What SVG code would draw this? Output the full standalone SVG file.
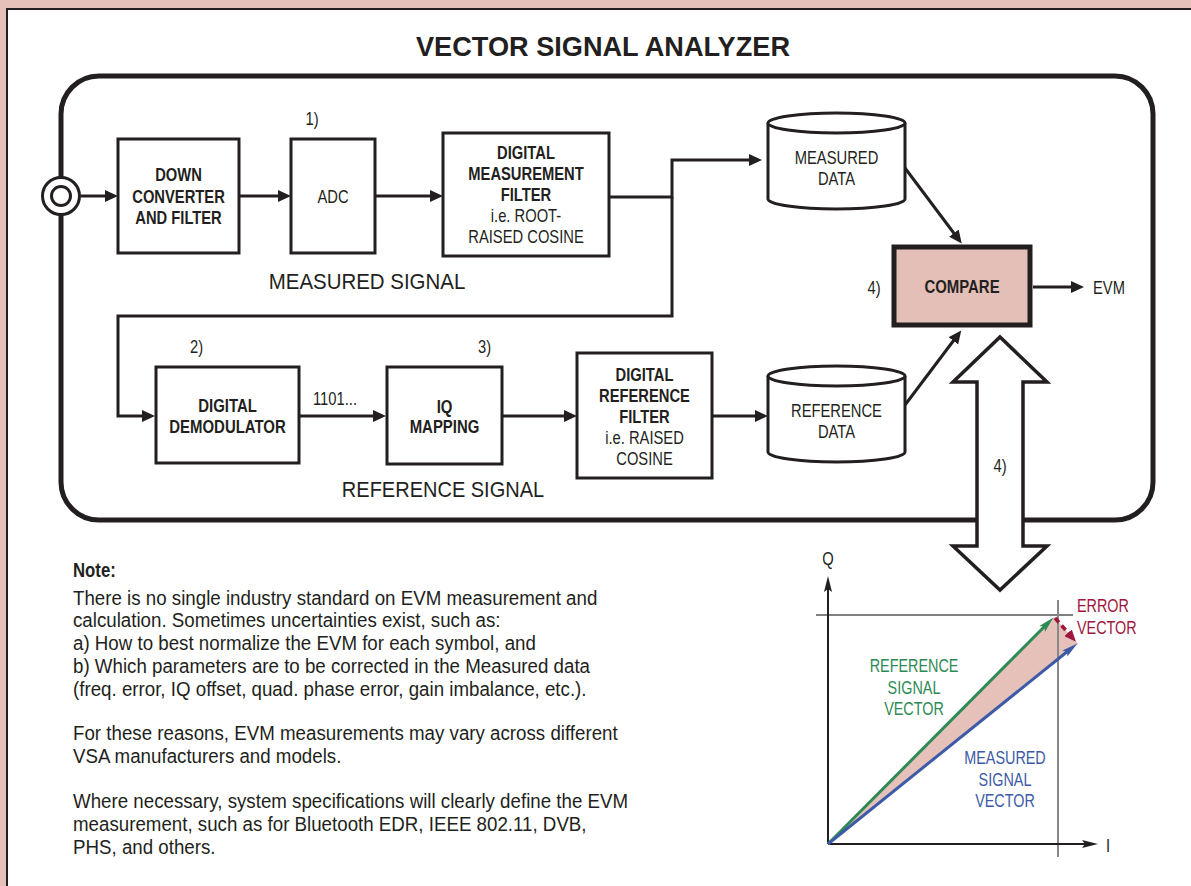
<svg xmlns="http://www.w3.org/2000/svg" width="1191" height="886" viewBox="0 0 1191 886">
<defs>
<style>
text{font-family:"Liberation Sans",Arial,sans-serif;fill:#231f20}
.b{font-weight:bold;font-size:18px;text-anchor:middle}
.r{font-size:18px;text-anchor:middle}
.big{font-size:22px;text-anchor:middle}
.note{font-size:19.5px}
.box{fill:#fff;stroke:#231f20;stroke-width:3}
.wire{fill:none;stroke:#231f20;stroke-width:3}
</style>
<marker id="ah" markerUnits="userSpaceOnUse" markerWidth="13" markerHeight="12" refX="6" refY="6" orient="auto"><path d="M0,0 L13,6 L0,12 z" fill="#231f20"/></marker>
<marker id="ax" markerUnits="userSpaceOnUse" markerWidth="16" markerHeight="10" refX="4" refY="5" orient="auto"><path d="M0,1 L16,5 L0,9 L3,5 z" fill="#231f20"/></marker>
<marker id="ag" markerUnits="userSpaceOnUse" markerWidth="16" markerHeight="10" refX="4" refY="5" orient="auto"><path d="M0,1 L16,5 L0,9 L3,5 z" fill="#2e8a55"/></marker>
<marker id="abl" markerUnits="userSpaceOnUse" markerWidth="16" markerHeight="10" refX="4" refY="5" orient="auto"><path d="M0,1 L16,5 L0,9 L3,5 z" fill="#3d5aa8"/></marker>
<marker id="ar" markerUnits="userSpaceOnUse" markerWidth="12" markerHeight="10" refX="3" refY="5" orient="auto"><path d="M0,0 L12,5 L0,10 z" fill="#a0173d"/></marker>
</defs>
<rect x="0" y="0" width="1191" height="886" fill="#e5c1b9"/>
<rect x="7" y="9" width="1200" height="900" fill="#fff" stroke="#231f20" stroke-width="2"/>
<text x="603" y="56" font-size="28" font-weight="bold" text-anchor="middle" textLength="374" lengthAdjust="spacingAndGlyphs">VECTOR SIGNAL ANALYZER</text>
<rect id="frame" x="61" y="76" width="1092" height="444" rx="38" ry="38" fill="none" stroke="#231f20" stroke-width="5"/>

<g id="connectors">
<line class="wire" x1="81" y1="196" x2="111" y2="196" marker-end="url(#ah)"/>
<line class="wire" x1="239" y1="196" x2="284" y2="196" marker-end="url(#ah)"/>
<line class="wire" x1="375" y1="196" x2="436" y2="196" marker-end="url(#ah)"/>
<polyline class="wire" points="609,197 672,197 672,160 755,160" marker-end="url(#ah)"/>
<polyline class="wire" points="672,197 672,316 118,316 118,416 148,416" marker-end="url(#ah)"/>
<line class="wire" x1="299" y1="416" x2="379" y2="416" marker-end="url(#ah)"/>
<line class="wire" x1="502" y1="416" x2="570" y2="416" marker-end="url(#ah)"/>
<line class="wire" x1="711" y1="416" x2="761" y2="416" marker-end="url(#ah)"/>
<line class="wire" x1="905" y1="168" x2="957.5" y2="238" marker-end="url(#ah)"/>
<line class="wire" x1="905" y1="405" x2="957" y2="336" marker-end="url(#ah)"/>
<line class="wire" x1="1033" y1="287" x2="1077" y2="287" marker-end="url(#ah)"/>
</g>

<g id="input">
<circle cx="61" cy="196" r="18.5" fill="#fff" stroke="#231f20" stroke-width="3"/>
<circle cx="61" cy="196" r="9.5" fill="#fff" stroke="#231f20" stroke-width="3"/>
</g>

<g id="downconverter">
<rect class="box" x="118" y="139" width="121" height="114"/>
<text class="b" transform="translate(178.5,0) scale(0.82,1)"><tspan x="0" y="181">DOWN</tspan><tspan x="0" y="203">CONVERTER</tspan><tspan x="0" y="224">AND FILTER</tspan></text>
</g>

<g id="adc">
<rect class="box" x="291" y="139" width="84" height="114"/>
<text class="r" transform="translate(333,0) scale(0.82,1)"><tspan x="0" y="203">ADC</tspan></text>
<text class="r" transform="translate(312,0) scale(0.82,1)"><tspan x="0" y="125">1)</tspan></text>
</g>

<g id="measfilter">
<rect class="box" x="443" y="133" width="166" height="123"/>
<text class="b" transform="translate(526,0) scale(0.82,1)"><tspan x="0" y="159">DIGITAL</tspan><tspan x="0" y="180">MEASUREMENT</tspan><tspan x="0" y="201">FILTER</tspan></text>
<text class="r" transform="translate(526,0) scale(0.82,1)"><tspan x="0" y="222">i.e. ROOT-</tspan><tspan x="0" y="243">RAISED COSINE</tspan></text>
</g>

<text class="big" transform="translate(367,0) scale(0.93,1)"><tspan x="0" y="289">MEASURED SIGNAL</tspan></text>

<g id="measdata">
<path d="M768,123 L768,199 A68.5,10 0 0 0 905,199 L905,123" fill="#fff" stroke="#231f20" stroke-width="3"/>
<ellipse cx="836.5" cy="123" rx="68.5" ry="10" fill="#fff" stroke="#231f20" stroke-width="3"/>
<text class="r" transform="translate(836.5,0) scale(0.82,1)"><tspan x="0" y="164">MEASURED</tspan><tspan x="0" y="185">DATA</tspan></text>
</g>

<g id="compare">
<rect x="894" y="247" width="136" height="78" fill="#e3bfb7" stroke="#231f20" stroke-width="5"/>
<text class="b" transform="translate(962,0) scale(0.83,1)"><tspan x="0" y="293">COMPARE</tspan></text>
<text class="r" transform="translate(874,0) scale(0.82,1)"><tspan x="0" y="294">4)</tspan></text>
</g>
<text class="r" transform="translate(1109,0) scale(0.82,1)"><tspan x="0" y="294">EVM</tspan></text>

<g id="demod">
<rect class="box" x="156" y="367" width="143" height="96"/>
<text class="b" transform="translate(227.5,0) scale(0.83,1)"><tspan x="0" y="412">DIGITAL</tspan><tspan x="0" y="433">DEMODULATOR</tspan></text>
<text class="r" transform="translate(196.5,0) scale(0.82,1)"><tspan x="0" y="353">2)</tspan></text>
</g>
<text class="r" transform="translate(335,0) scale(0.82,1)"><tspan x="0" y="405">1101...</tspan></text>

<g id="iqmap">
<rect class="box" x="387" y="367" width="115" height="97"/>
<text class="b" transform="translate(444.5,0) scale(0.83,1)"><tspan x="0" y="413">IQ</tspan><tspan x="0" y="433">MAPPING</tspan></text>
<text class="r" transform="translate(484.5,0) scale(0.82,1)"><tspan x="0" y="353">3)</tspan></text>
</g>

<g id="reffilter">
<rect class="box" x="577" y="353" width="135" height="125"/>
<text class="b" transform="translate(644.5,0) scale(0.82,1)"><tspan x="0" y="381">DIGITAL</tspan><tspan x="0" y="402">REFERENCE</tspan><tspan x="0" y="423">FILTER</tspan></text>
<text class="r" transform="translate(644.5,0) scale(0.82,1)"><tspan x="0" y="444">i.e. RAISED</tspan><tspan x="0" y="465">COSINE</tspan></text>
</g>

<text class="big" transform="translate(443,0) scale(0.91,1)"><tspan x="0" y="497">REFERENCE SIGNAL</tspan></text>

<g id="refdata">
<path d="M768,376 L768,452 A68.5,10 0 0 0 905,452 L905,376" fill="#fff" stroke="#231f20" stroke-width="3"/>
<ellipse cx="836.5" cy="376" rx="68.5" ry="10" fill="#fff" stroke="#231f20" stroke-width="3"/>
<text class="r" transform="translate(836.5,0) scale(0.82,1)"><tspan x="0" y="417">REFERENCE</tspan><tspan x="0" y="438">DATA</tspan></text>
</g>

<g id="doublearrow">
<polygon points="1000,337 1047,382 1023,382 1023,546 1047,546 1000,590 953,546 977,546 977,382 953,382" fill="#fff" stroke="#231f20" stroke-width="3.5" stroke-linejoin="miter"/>
<text class="r" transform="translate(1000,0) scale(0.82,1)"><tspan x="0" y="472">4)</tspan></text>
</g>

<g id="note">
<text class="note" font-weight="bold" transform="translate(73,0) scale(0.86,1)"><tspan x="0" y="577">Note:</tspan></text>
<text class="note" transform="translate(73,0) scale(0.96,1)">
<tspan x="0" y="605">There is no single industry standard on EVM measurement and</tspan>
<tspan x="0" y="627.5">calculation. Sometimes uncertainties exist, such as:</tspan>
<tspan x="0" y="650">a) How to best normalize the EVM for each symbol, and</tspan>
<tspan x="0" y="673">b) Which parameters are to be corrected in the Measured data</tspan>
<tspan x="0" y="696">(freq. error, IQ offset, quad. phase error, gain imbalance, etc.).</tspan>
<tspan x="0" y="740">For these reasons, EVM measurements may vary across different</tspan>
<tspan x="0" y="763">VSA manufacturers and models.</tspan>
<tspan x="0" y="808">Where necessary, system specifications will clearly define the EVM</tspan>
<tspan x="0" y="831">measurement, such as for Bluetooth EDR, IEEE 802.11, DVB,</tspan>
<tspan x="0" y="854">PHS, and others.</tspan>
</text>
</g>

<g id="iqplot">
<polygon points="828,844 1054,617 1078,644" fill="#e5c1b9"/>
<line x1="816" y1="615" x2="1073" y2="615" stroke="#555" stroke-width="1.5"/>
<line x1="1058" y1="600" x2="1058" y2="857" stroke="#888" stroke-width="2"/>
<line x1="828" y1="844" x2="828" y2="588" stroke="#231f20" stroke-width="2" marker-end="url(#ax)"/>
<line x1="828" y1="844" x2="1086" y2="844" stroke="#231f20" stroke-width="2" marker-end="url(#ax)"/>
<line x1="828" y1="844" x2="1045" y2="626" stroke="#2e8a55" stroke-width="3" marker-end="url(#ag)"/>
<line x1="828" y1="844" x2="1068" y2="651" stroke="#3d5aa8" stroke-width="3" marker-end="url(#abl)"/>
<line x1="1055" y1="618" x2="1070" y2="635" stroke="#a0173d" stroke-width="3.5" stroke-dasharray="6 4" marker-end="url(#ar)"/>
<text class="r" transform="translate(828,0) scale(0.82,1)"><tspan x="0" y="565">Q</tspan></text>
<text class="r" transform="translate(1108,0) scale(0.82,1)"><tspan x="0" y="852">I</tspan></text>
<text style="fill:#a0173d;font-size:18px" transform="translate(1077,0) scale(0.8,1)"><tspan x="0" y="612">ERROR</tspan><tspan x="0" y="634">VECTOR</tspan></text>
<text style="fill:#2e8a55;font-size:18px;text-anchor:middle" transform="translate(914,0) scale(0.8,1)"><tspan x="0" y="672">REFERENCE</tspan><tspan x="0" y="694">SIGNAL</tspan><tspan x="0" y="715">VECTOR</tspan></text>
<text style="fill:#3d5aa8;font-size:18px;text-anchor:middle" transform="translate(1005,0) scale(0.8,1)"><tspan x="0" y="764">MEASURED</tspan><tspan x="0" y="786">SIGNAL</tspan><tspan x="0" y="807">VECTOR</tspan></text>
</g>
</svg>
